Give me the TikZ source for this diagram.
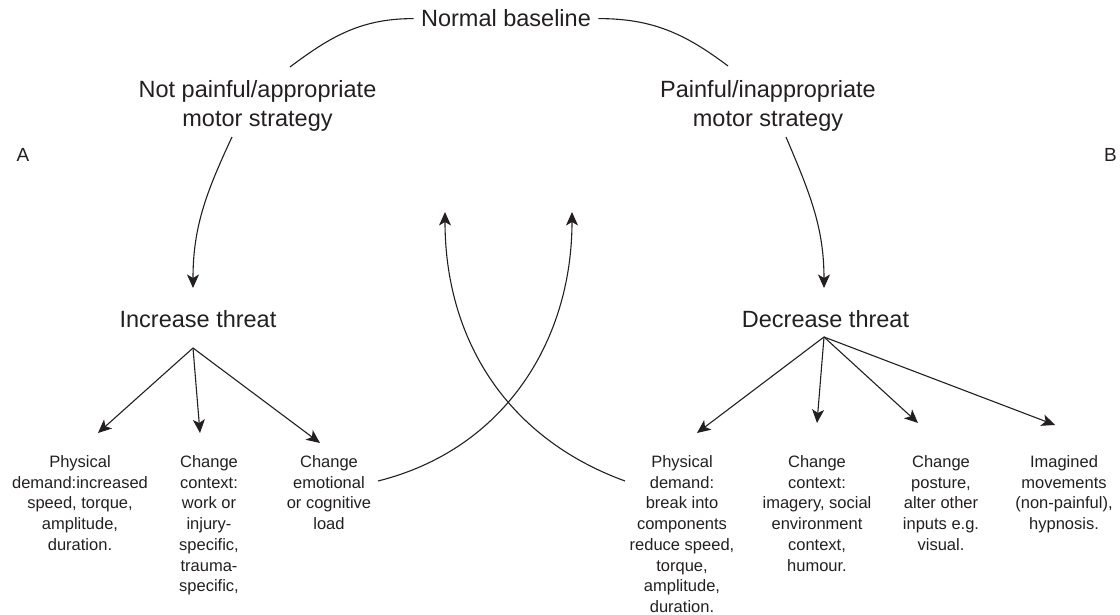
\documentclass[tikz,border=0pt]{standalone}
\usepackage{fontspec}
\setmainfont{Liberation Sans}
\usetikzlibrary{arrows.meta}
\definecolor{ink}{RGB}{35,31,32}

\begin{document}
\begin{tikzpicture}[x=1pt,y=1pt,color=ink,line width=1.1pt,
		>={Stealth[length=13.5pt,width=12pt,inset=3.5pt]},
		heading/.style={inner sep=0pt,align=center,font=\fontsize{23.5}{29.5}\selectfont},
		option/.style={inner sep=0pt,align=center,anchor=north,font=\fontsize{16.5}{20.7}\selectfont},
		panel/.style={inner sep=0pt,anchor=base,font=\fontsize{19}{23}\selectfont}]

	\useasboundingbox (0,0) rectangle (1120,615);

	% headings
	\node [heading, anchor=base, inner xsep=7pt] (baseline) at (506,588) {Normal baseline};
	\node [heading, anchor=north] (notpainful) at (257.5,535.5) {Not painful/appropriate\\motor strategy};
	\node [heading, anchor=north] (painful) at (768,535.5) {Painful/inappropriate\\motor strategy};
	\node [heading, anchor=base] (increase) at (198,287) {Increase threat};
	\node [heading, anchor=base] (decrease) at (825.5,287) {Decrease threat};
	\node [panel] (panel-a) at (23,453) {A};
	\node [panel] (panel-b) at (1110.5,453) {B};

	% options
	\node [option] (inc-physical) at (80,160) {Physical\\demand:increased\\speed, torque,\\amplitude,\\duration.};
	\node [option] (inc-context) at (209,160) {Change\\context:\\work or\\injury-\\specific,\\trauma-\\specific,};
	\node [option] (inc-load) at (329,160) {Change\\emotional\\or cognitive\\load};
	\node [option] (dec-physical) at (682,160) {Physical\\demand:\\break into\\components\\reduce speed,\\torque,\\amplitude,\\duration.};
	\node [option] (dec-context) at (817,160) {Change\\context:\\imagery, social\\environment\\context,\\humour.};
	\node [option] (dec-posture) at (941,160) {Change\\posture,\\alter other\\inputs e.g.\\visual.};
	\node [option] (dec-imagined) at (1064,160) {Imagined\\movements\\(non-painful),\\hypnosis.};

	% free ends
	\coordinate (notpainful-top) at (290,548);
	\coordinate (painful-top) at (728,549);
	\coordinate (notpainful-foot) at (232,478);
	\coordinate (painful-foot) at (786,478);
	\coordinate (increase-tip) at (193,327);
	\coordinate (decrease-tip) at (824,327);
	\coordinate (increase-fan) at (193,267);
	\coordinate (decrease-fan) at (824,278);
	\coordinate (load-out) at (378,134);
	\coordinate (load-tip) at (572,403);
	\coordinate (break-out) at (625,134);
	\coordinate (break-tip) at (445,403);

	% loop
	\draw (notpainful-top) to[out=37,in=180] (baseline.west);
	\draw (baseline.east) to[out=0,in=143] (painful-top);
	\draw [->] (notpainful-foot) to[out=-115,in=90] (increase-tip);
	\draw [->] (painful-foot) to[out=-67,in=90] (decrease-tip);
	\draw [->] (load-out) to[out=14,in=-90] (load-tip);
	\draw [->] (break-out) to[out=160,in=-90] (break-tip);

	% fans
	\draw (increase-fan)
		edge [->] (98,182)
		edge [->] (200,182)
		edge [->] (320,172);
	\draw (decrease-fan)
		edge [->] (697,182)
		edge [->] (817,192)
		edge [->] (918,192)
		edge [->] (1055,190);
\end{tikzpicture}
\end{document}
